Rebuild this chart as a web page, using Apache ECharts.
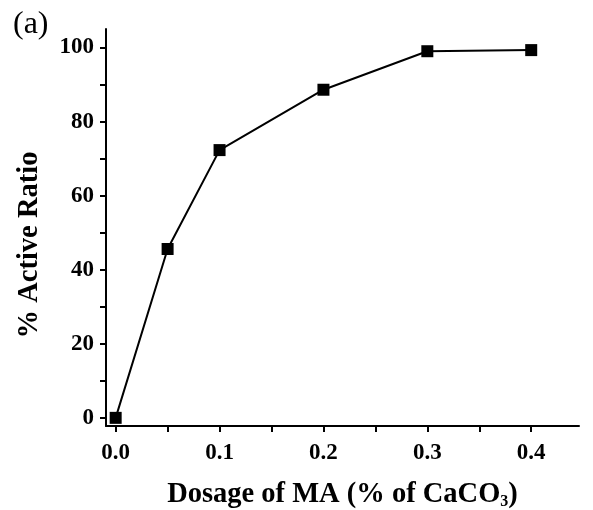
<!DOCTYPE html>
<html><head><meta charset="utf-8">
<script src="https://cdn.jsdelivr.net/npm/echarts@6/dist/echarts.min.js"></script>
<style>html,body{margin:0;padding:0;background:#fff}#c{width:593px;height:510px}</style>
</head><body><div id="c"></div>
<script>
const dosage = [0, 0.05, 0.1, 0.2, 0.3, 0.4];
const activeRatio = [0, 45.6, 72.3, 88.6, 99.0, 99.3];
const yTicks = [0, 20, 40, 60, 80, 100];
const xTicks = [0.0, 0.1, 0.2, 0.3, 0.4];

const chart = echarts.init(document.getElementById('c'), null, {renderer: 'canvas'});
const font = '"Liberation Serif", "Times New Roman", serif';
chart.setOption({
  animation: false,
  backgroundColor: '#fff',
  graphic: [
    {type: 'text', left: 13, top: 9, style: {text: '(a)', font: '32px ' + font, fill: '#000'}},
    {type: 'text', x: 30, y: 245, rotation: Math.PI / 2,
      style: {text: '% Active Ratio', font: 'bold 28.5px ' + font, fill: '#000', align: 'center', verticalAlign: 'middle'}}
  ],
  grid: {left: 106, right: 14, top: 29, bottom: 84, containLabel: false, outerBoundsMode: 'none'},
  xAxis: {
    type: 'value', min: -0.0093, max: 0.446,
    interval: 0.05,
    axisLine: {show: true, onZero: false, lineStyle: {color: '#000', width: 2}},
    axisTick: {show: true, inside: false, length: 6, lineStyle: {color: '#000', width: 2},
      customValues: [0, 0.05, 0.1, 0.15, 0.2, 0.25, 0.3, 0.35, 0.4, 0.45]},
    axisLabel: {margin: 16, fontFamily: font, fontWeight: 'bold', fontSize: 23, color: '#000',
      customValues: xTicks, formatter: v => v.toFixed(1)},
    splitLine: {show: false},
    name: 'Dosage of MA (% of CaCO{sub|3})',
    nameLocation: 'middle', nameGap: 54,
    nameTextStyle: {fontFamily: font, fontWeight: 'bold', fontSize: 28.5, color: '#000',
      rich: {sub: {fontFamily: font, fontWeight: 'bold', fontSize: 16, color: '#000', verticalAlign: 'bottom', padding: [14, 0, 0, 0]}}}
  },
  yAxis: {
    type: 'value', min: -2.2, max: 105,
    axisLine: {show: true, onZero: false, lineStyle: {color: '#000', width: 2}},
    axisTick: {show: true, inside: false, length: 6, lineStyle: {color: '#000', width: 2},
      customValues: [0, 10, 20, 30, 40, 50, 60, 70, 80, 90, 100]},
    axisLabel: {margin: 12, fontFamily: font, fontWeight: 'bold', fontSize: 23, color: '#000',
      customValues: yTicks},
    splitLine: {show: false}
  },
  series: [{
    type: 'line',
    data: dosage.map((x, i) => [x, activeRatio[i]]),
    symbol: 'rect', symbolSize: 12,
    lineStyle: {color: '#000', width: 2},
    itemStyle: {color: '#000'}
  }]
});
</script></body></html>
